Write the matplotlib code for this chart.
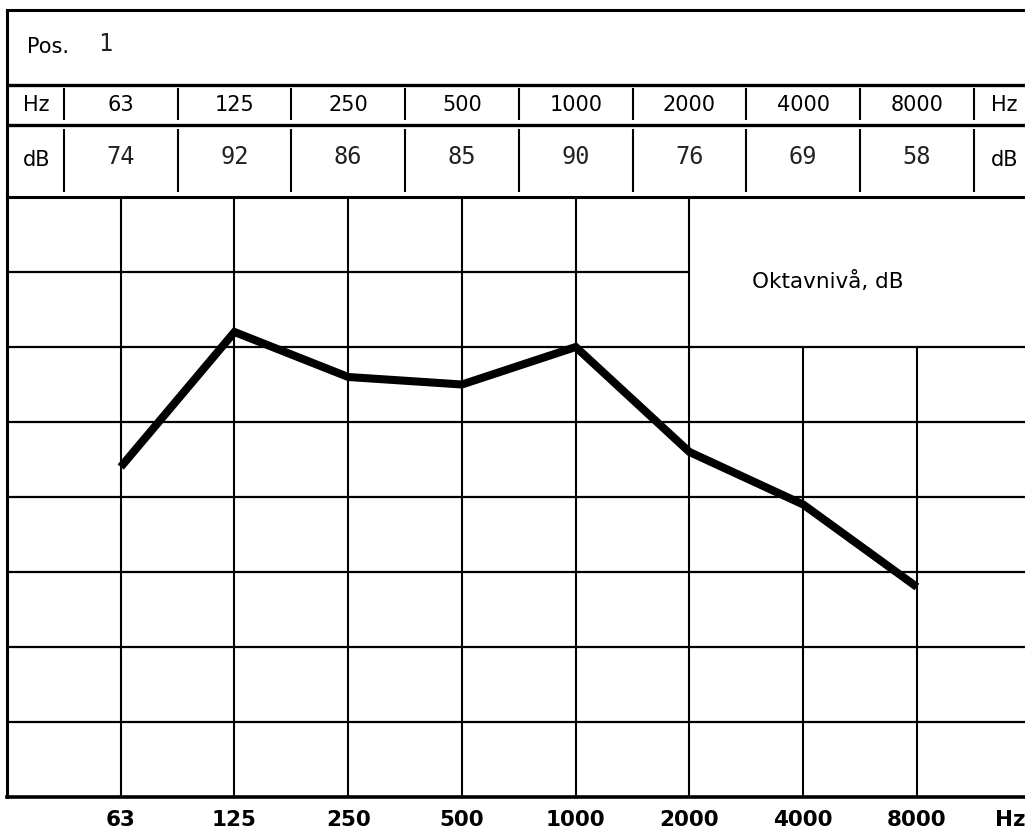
import matplotlib
matplotlib.use('Agg')
import matplotlib.pyplot as plt
import numpy as np

# octave band data, position 1
bands = ['63', '125', '250', '500', '1000', '2000', '4000', '8000']
levels_db = [74, 92, 86, 85, 90, 76, 69, 58]
position = '1'
grid_db = [40, 50, 60, 70, 80, 90, 100]

W, H = 1025, 836
SANS = ['DejaVu Sans']
MONO = ['DejaVu Sans Mono']

fig = plt.figure(figsize=(W / 100, H / 100), dpi=100)
fig.patch.set_facecolor('white')

x = np.arange(len(bands))
x_lo, x_hi = -1.0, 7.95
y_lo, y_hi = 30, 110

# main chart area (pixels: x 7..1025, y 197..797)
ax = fig.add_axes([7 / W, (H - 797) / H, (W - 7) / W, 600 / H])
ax.set_xlim(x_lo, x_hi)
ax.set_ylim(y_lo, y_hi)
for side in ['top', 'bottom', 'left']:
    ax.spines[side].set_linewidth(2.2)
ax.spines['right'].set_visible(False)
ax.spines['bottom'].set_linewidth(2.6)

# horizontal grid; the 100 dB line stops at the 2000 Hz column
for g in grid_db:
    right = x[5] if g == 100 else x_hi
    ax.hlines(g, x_lo, right, color='black', lw=1.6)

# vertical grid; 4000 and 8000 stop under the label box
for i in x:
    top = 90 if i > 5 else y_hi
    ax.vlines(i, y_lo, top, color='black', lw=1.5)

ax.plot(x, levels_db, color='black', lw=5.8, solid_joinstyle='miter',
        solid_capstyle='butt', zorder=5)

ax.text(6.22, 98.8, 'Oktavnivå, dB', ha='center', va='center',
        fontsize=15.5, family=SANS)

ax.set_yticks([])
ax.set_xticks(list(x) + [7.82])
ax.set_xticklabels(bands + ['Hz'], family=SANS, fontsize=15.5,
                   fontweight='bold')
ax.tick_params(axis='x', length=0, pad=9)

# table above the chart (pixels: y 10..197)
tab = fig.add_axes([7 / W, (H - 197) / H, (W - 7) / W, 187 / H])
tab.set_xlim(x_lo, x_hi)
tab.set_ylim(197, 10)
tab.set_xticks([])
tab.set_yticks([])
tab.patch.set_alpha(0)
tab.spines['right'].set_visible(False)
tab.spines['bottom'].set_visible(False)
tab.spines['top'].set_linewidth(2.2)
tab.spines['left'].set_linewidth(2.2)

tab.hlines([85, 125], x_lo, x_hi, color='black', lw=2.4)
seps = np.arange(len(bands) + 1) - 0.5
tab.vlines(seps, 88, 120, color='black', lw=1.5)
tab.vlines(seps, 129, 192, color='black', lw=1.5)

tab.text(-0.82, 47, 'Pos.', ha='left', va='center', fontsize=15, family=SANS)
tab.text(-0.2, 44, position, ha='left', va='center', fontsize=17,
         family=MONO, color='#222222')

tab.text(-0.74, 105, 'Hz', ha='center', va='center', fontsize=15, family=SANS)
tab.text(-0.74, 160, 'dB', ha='center', va='center', fontsize=15, family=SANS)
tab.text(7.77, 105, 'Hz', ha='center', va='center', fontsize=15, family=SANS)
tab.text(7.77, 160, 'dB', ha='center', va='center', fontsize=15, family=SANS)

for i, (b, v) in enumerate(zip(bands, levels_db)):
    tab.text(i, 105, b, ha='center', va='center', fontsize=15, family=SANS)
    tab.text(i, 157, f'{v}', ha='center', va='center', fontsize=17,
             family=MONO, color='#222222')

fig.savefig('out.png', dpi=100, facecolor='white')
